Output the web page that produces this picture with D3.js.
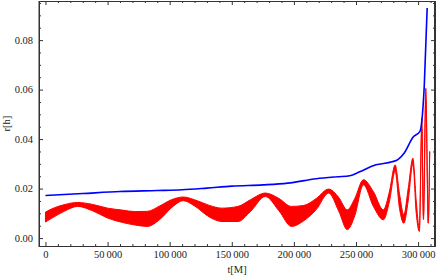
<!DOCTYPE html>
<html lang="en">
<head>
<meta charset="UTF-8">
<title>r[h] vs t[M]</title>
<script src="https://cdn.jsdelivr.net/npm/d3@7"></script>
<style>
    body { margin: 0; background: #fff; }
    svg text { font-family: "Liberation Serif", "Times New Roman", serif; font-size: 10.5px; fill: #222; }
    .axis path { stroke: #333; }
    .axis line { stroke: #333; }
</style>
</head>
<body>
<div id="output"></div>
<script>

// horizon radius (blue)
var tBlue = [0, 30000, 60000, 90000, 110000, 130000, 150000, 175000, 195000, 218000, 235000, 245000,
             253000, 266000, 279000, 284000, 289000, 296000, 301500, 303500, 305000, 307300];
var rBlue = [0.0172, 0.0180, 0.0188, 0.0192, 0.0195, 0.0202, 0.0210, 0.0215, 0.0222, 0.0240, 0.0248, 0.0252,
             0.0268, 0.0296, 0.0308, 0.0318, 0.0345, 0.0408, 0.0431, 0.0500, 0.0620, 0.0930];

// red band: upper and lower envelope of the fast oscillation
var tRed = [0, 5000, 15000, 26000, 38000, 50000, 62000, 72000, 82000, 92000, 102000, 111000, 120000,
            132000, 142000, 155000, 165000, 177000, 188000, 198000, 208000, 218000, 228000, 236000,
            243000, 249000, 256000, 264000, 272000, 277000, 281500, 285000, 288500, 292000, 295800,
            298500, 301000, 303000, 304300, 306200, 308200, 309300];
var redHi = [0.0105, 0.0118, 0.0135, 0.0144, 0.0136, 0.0121, 0.0113, 0.0107, 0.0108, 0.0130, 0.0156, 0.0166, 0.0155,
             0.0132, 0.0121, 0.0128, 0.0155, 0.0182, 0.0160, 0.0128, 0.0132, 0.0160, 0.0198, 0.0165,
             0.0114, 0.0160, 0.0236, 0.0188, 0.0114, 0.0190, 0.0296, 0.0180, 0.0094, 0.0200, 0.0323,
             0.0150, 0.0040, 0.0485, 0.0090, 0.0605, 0.0070, 0.0350];
var redLo = [0.0065, 0.0080, 0.0108, 0.0128, 0.0110, 0.0081, 0.0063, 0.0053, 0.0047, 0.0075, 0.0125, 0.0151, 0.0130,
             0.0085, 0.0067, 0.0067, 0.0107, 0.0168, 0.0110, 0.0047, 0.0070, 0.0115, 0.0182, 0.0110,
             0.0034, 0.0090, 0.0215, 0.0128, 0.0074, 0.0150, 0.0270, 0.0120, 0.0060, 0.0150, 0.0300,
             0.0100, 0.0027, 0.0440, 0.0075, 0.0560, 0.0060, 0.0330];

var xTicks = [0, 50000, 100000, 150000, 200000, 250000, 300000];
var yTicks = [0, 0.02, 0.04, 0.06, 0.08];

var w = 436, h = 276;
var padL = 39, padR = 435, padT = 1, padB = 246;

var svg = d3.select("#output").append("svg")
        .attr("width", w)
        .attr("height", h);

var xScale = d3.scaleLinear().domain([-5200, 313600]).range([padL, padR]);
var yScale = d3.scaleLinear().domain([-0.0032, 0.0958]).range([padB, padT]);

var loc = d3.formatLocale({decimal: ".", thousands: "\u2009", grouping: [3], currency: ["", ""]});
var fmtX = loc.format(",");
var fmtY = d3.format(".2f");

var xMinor = d3.range(0, 310001, 10000).filter(function(d){ return d % 50000 !== 0; });
var yMinor = d3.range(0, 0.0951, 0.005).filter(function(d){ return Math.round(d * 1000) % 20 !== 0; });

svg.append("clipPath").attr("id", "clip")
    .append("rect").attr("x", padL).attr("y", padT)
    .attr("width", padR - padL).attr("height", padB - padT);

var plot = svg.append("g").attr("clip-path", "url(#clip)");

var redData = tRed.map(function(t, i){ return {t: t, hi: redHi[i], lo: redLo[i]}; });
var area = d3.area()
        .x(function(d){ return xScale(d.t); })
        .y0(function(d){ return yScale(d.lo); })
        .y1(function(d){ return yScale(d.hi); })
        .curve(d3.curveMonotoneX);

plot.append("path")
    .datum(redData)
    .attr("d", area)
    .attr("fill", "#ff0000")
    .attr("stroke", "#ff0000")
    .attr("stroke-width", 1);

var blueData = tBlue.map(function(t, i){ return {t: t, r: rBlue[i]}; });
var line = d3.line()
        .x(function(d){ return xScale(d.t); })
        .y(function(d){ return yScale(d.r); })
        .curve(d3.curveMonotoneX);

plot.append("path")
    .datum(blueData)
    .attr("d", line)
    .attr("fill", "none")
    .attr("stroke", "#0000ff")
    .attr("stroke-width", 1.6);

// frame with inward ticks on every side
function addAxis(gen, tx, ty){
    return svg.append("g").attr("class", "axis")
        .attr("transform", "translate(" + tx + "," + ty + ")")
        .call(gen);
}

addAxis(d3.axisBottom(xScale).tickValues(xTicks).tickFormat(fmtX).tickSizeInner(-4).tickSizeOuter(0).tickPadding(5), 0, padB);
addAxis(d3.axisBottom(xScale).tickValues(xMinor).tickFormat("").tickSizeInner(-2).tickSizeOuter(0), 0, padB);
addAxis(d3.axisTop(xScale).tickValues(xTicks).tickFormat("").tickSizeInner(-4).tickSizeOuter(0), 0, padT);
addAxis(d3.axisTop(xScale).tickValues(xMinor).tickFormat("").tickSizeInner(-2).tickSizeOuter(0), 0, padT);

addAxis(d3.axisLeft(yScale).tickValues(yTicks).tickFormat(fmtY).tickSizeInner(-4).tickSizeOuter(0).tickPadding(6), padL, 0);
addAxis(d3.axisLeft(yScale).tickValues(yMinor).tickFormat("").tickSizeInner(-2).tickSizeOuter(0), padL, 0);
addAxis(d3.axisRight(yScale).tickValues(yTicks).tickFormat("").tickSizeInner(-4).tickSizeOuter(0), padR, 0);
addAxis(d3.axisRight(yScale).tickValues(yMinor).tickFormat("").tickSizeInner(-2).tickSizeOuter(0), padR, 0);

svg.selectAll(".axis text")
    .style("font-family", "'Liberation Serif', 'Times New Roman', serif")
    .style("font-size", "10.5px")
    .attr("fill", "#222");

svg.append("rect")
    .attr("x", padL).attr("y", padT + 0.5)
    .attr("width", padR - padL - 0.5).attr("height", padB - padT)
    .attr("fill", "none")
    .attr("stroke", "#333")
    .attr("stroke-width", 1);

svg.append("text")
    .attr("x", (padL + padR) / 2)
    .attr("y", 273)
    .attr("text-anchor", "middle")
    .text("t[M]");

svg.append("text")
    .attr("transform", "translate(10," + ((padT + padB) / 2) + ") rotate(-90)")
    .attr("text-anchor", "middle")
    .text("r[h]");

</script>
</body>
</html>
